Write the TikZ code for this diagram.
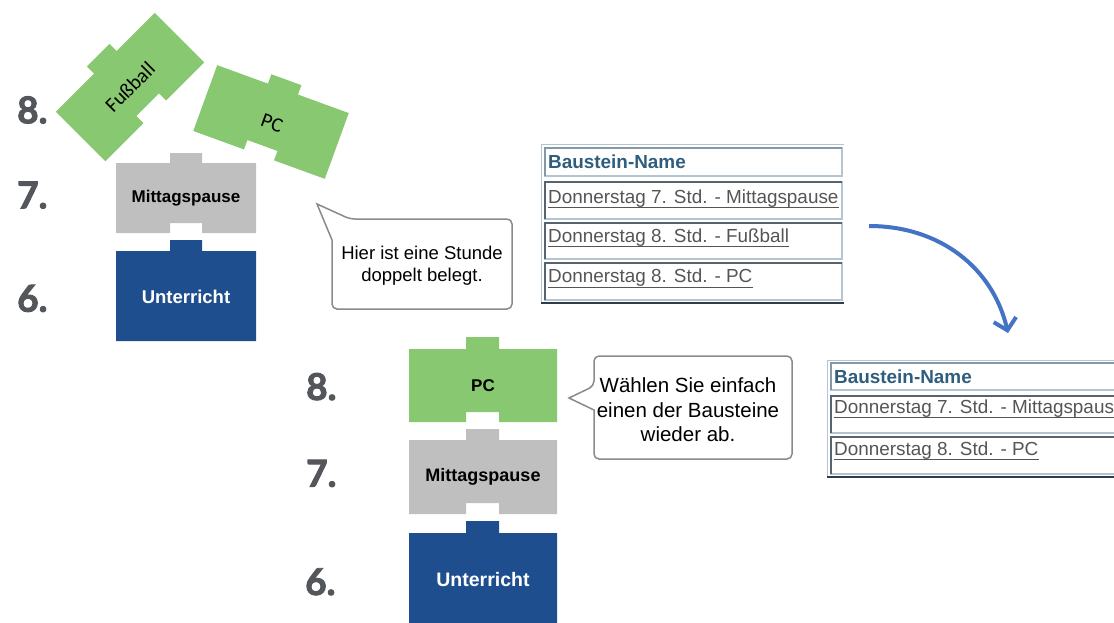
\documentclass[tikz,border=0pt]{standalone}
\usepackage{fontspec}
\setmainfont{Liberation Sans}
\newfontfamily\numfont{Lato}[BoldFeatures={FakeBold=2.5}]
\newfontfamily\calfont{Carlito}
\usetikzlibrary{arrows.meta}
\definecolor{bgreen}{HTML}{88C870}
\definecolor{bgray}{HTML}{BFBFBF}
\definecolor{bblue}{HTML}{1F4E8F}
\definecolor{numc}{HTML}{53575B}
\definecolor{callc}{HTML}{8A8A8A}
\definecolor{hdr}{HTML}{2E5D7D}
\definecolor{rowtxt}{HTML}{555555}
\definecolor{celllight}{HTML}{B4C4D0}
\definecolor{cellmid}{HTML}{8499A8}
\definecolor{celldark}{HTML}{56646E}
\definecolor{outerdark}{HTML}{2E3D48}
\definecolor{arrowc}{HTML}{4472C4}
\begin{document}
\begin{tikzpicture}[x=1pt,y=-1pt,
  num/.style={font=\numfont\bfseries\fontsize{37}{37}\selectfont, text=numc, anchor=base west, inner sep=0pt},
  blocktxt/.style={font=\bfseries\fontsize{#1}{#1}\selectfont, inner sep=0pt},
  rottxt/.style={font=\calfont\fontsize{20.5}{20.5}\selectfont, inner sep=0pt},
  callout/.style={draw=callc, line width=1.5pt, fill=white, rounded corners=5pt},
  calltxt/.style={align=center, inner sep=0pt},
  cellbox/.style={draw=celllight, line width=1.2pt},
  celledge/.style={draw=celldark, line width=1.2pt},
  hdredge/.style={draw=cellmid, line width=1.2pt},
  hdrtxt/.style={font=\bfseries\fontsize{18.9}{18.9}\selectfont, text=hdr, anchor=base west, inner sep=0pt},
  rowtext/.style={font=\fontsize{18.9}{18.9}\selectfont, text=rowtxt, anchor=base west, inner sep=0pt},
  ul/.style={draw=rowtxt, line width=1.1pt},
  bluearrow/.style={draw=arrowc, line width=4pt, -{Straight Barb[length=11pt,width=23pt]}}
]
\useasboundingbox (0,0) rectangle (1114,622);
\clip (0,0) rectangle (1114,622);

% ---------- left stack ----------
\begin{scope}[shift={(130,87)}, rotate=45]
  \fill[bgreen] (-70,-35) -- (-16,-35) -- (-16,-45) -- (16,-45) -- (16,-35) -- (70,-35)
     -- (70,35) -- (16,35) -- (16,25) -- (-16,25) -- (-16,35) -- (-70,35) -- cycle;
\end{scope}
\node[rottxt, rotate=45] (fb) at (130,87) {Fußball};

\begin{scope}[shift={(271,122)}, rotate=-20]
  \fill[bgreen] (-70,-35) -- (-16,-35) -- (-16,-45) -- (16,-45) -- (16,-35) -- (70,-35)
     -- (70,35) -- (16,35) -- (16,25) -- (-16,25) -- (-16,35) -- (-70,35) -- cycle;
\end{scope}
\node[rottxt, rotate=-20] (pcl) at (272,123) {PC};

\fill[bgray] (116,163) -- (170,163) -- (170,153) -- (202,153) -- (202,163) -- (256,163)
  -- (256,233) -- (202,233) -- (202,223) -- (170,223) -- (170,233) -- (116,233) -- cycle;
\node[blocktxt=17] (mpl) at (186,198) {Mittagspause};

\fill[bblue] (116,251) -- (170,251) -- (170,240) -- (202,240) -- (202,251) -- (256,251)
  -- (256,341) -- (116,341) -- cycle;
\node[blocktxt=18.5, text=white] (ul1) at (186,297) {Unterricht};

\node[num] (n8l) at (17,123.3) {8.};
\node[num] (n7l) at (17,208.3) {7.};
\node[num] (n6l) at (17,311.7) {6.};

% ---------- callout 1 ----------
\draw[callout] (350,219) [sharp corners] -- (317,204) -- (332,240) [rounded corners=5pt]
  -- (332,309) -- (512,309) -- (512,219) -- cycle;
\node[calltxt, font=\fontsize{18.5}{22}\selectfont] (c1) at (422,266)
  {Hier ist eine Stunde\\doppelt belegt.};

% ---------- table 1 ----------
\draw[draw=celllight, line width=1.2pt] (541.5,303) -- (541.5,144.5) -- (844,144.5);
\draw[draw=outerdark, line width=1.5pt] (541,303) -- (844,303);
\draw[cellbox] (545,148) rectangle (842,176);
\draw[hdredge] (545,176) -- (545,148) -- (842,148);
\draw[cellbox] (545,182) rectangle (842,219);
\draw[celledge] (545,219) -- (545,182) -- (842,182);
\draw[cellbox] (545,223) rectangle (842,259);
\draw[celledge] (545,259) -- (545,223) -- (842,223);
\draw[cellbox] (545,263) rectangle (842,300);
\draw[celledge] (545,300) -- (545,263) -- (842,263);

\node[hdrtxt] (h1) at (548,168.5) {Baustein-Name};
\node[rowtext] (r11) at (548,203.3) {Donnerstag 7. Std. - Mittagspause};
\node[rowtext] (r12) at (548,242.3) {Donnerstag 8. Std. - Fußball};
\node[rowtext] (r13) at (548,282.7) {Donnerstag 8. Std. - PC};
\draw[ul] ([yshift=-4.6pt]r11.base west) -- ([yshift=-4.6pt]r11.base east);
\draw[ul] ([yshift=-4.6pt]r12.base west) -- ([yshift=-4.6pt]r12.base east);
\draw[ul] ([yshift=-4.6pt]r13.base west) -- ([yshift=-4.6pt]r13.base east);

% ---------- arrow ----------
\coordinate (arrS) at (869,226);
\coordinate (arrE) at (1008,333);
\draw[bluearrow] (arrS) .. controls (940,226) and (993,268) .. (arrE);

% ---------- right stack ----------
\fill[bgreen] (409,349) -- (466,349) -- (466,337) -- (499,337) -- (499,349) -- (557,349)
  -- (557,422) -- (499,422) -- (499,412) -- (466,412) -- (466,422) -- (409,422) -- cycle;
\node[blocktxt=17] (pcr) at (483,385.5) {PC};

\fill[bgray] (409,440) -- (466,440) -- (466,429) -- (499,429) -- (499,440) -- (557,440)
  -- (557,514) -- (499,514) -- (499,503) -- (466,503) -- (466,514) -- (409,514) -- cycle;
\node[blocktxt=18] (mpr) at (483,477) {Mittagspause};

\fill[bblue] (409,533) -- (466,533) -- (466,521) -- (499,521) -- (499,533) -- (557,533)
  -- (557,630) -- (409,630) -- cycle;
\node[blocktxt=19.5, text=white] (ur) at (483,580) {Unterricht};

\node[num] (n8r) at (306,400) {8.};
\node[num] (n7r) at (306,486.7) {7.};
\node[num] (n6r) at (305,595) {6.};

% ---------- callout 2 ----------
\draw[callout] (594,386) [sharp corners] -- (569,398) -- (594,410) [rounded corners=5pt]
  -- (594,459) -- (792,459) -- (792,356) -- (594,356) -- cycle;
\node[calltxt, font=\fontsize{20.5}{24.5}\selectfont] (c2) at (688,410)
  {Wählen Sie einfach\\einen der Bausteine\\wieder ab.};

% ---------- table 2 ----------
\draw[draw=celllight, line width=1.2pt] (827.5,477) -- (827.5,360.5) -- (1130,360.5);
\draw[draw=outerdark, line width=1.5pt] (827,477) -- (1130,477);
\draw[cellbox] (831,363) rectangle (1128,390);
\draw[hdredge] (831,390) -- (831,363) -- (1128,363);
\draw[cellbox] (831,396) rectangle (1128,433);
\draw[celledge] (831,433) -- (831,396) -- (1128,396);
\draw[cellbox] (831,437) rectangle (1128,474);
\draw[celledge] (831,474) -- (831,437) -- (1128,437);

\node[hdrtxt] (h2) at (834,383.3) {Baustein-Name};
\node[rowtext] (r21) at (834,413.3) {Donnerstag 7. Std. - Mittagspause};
\node[rowtext] (r22) at (834,455) {Donnerstag 8. Std. - PC};
\draw[ul] ([yshift=-4.6pt]r21.base west) -- ([yshift=-4.6pt]r21.base east);
\draw[ul] ([yshift=-4.6pt]r22.base west) -- ([yshift=-4.6pt]r22.base east);
\end{tikzpicture}
\end{document}
